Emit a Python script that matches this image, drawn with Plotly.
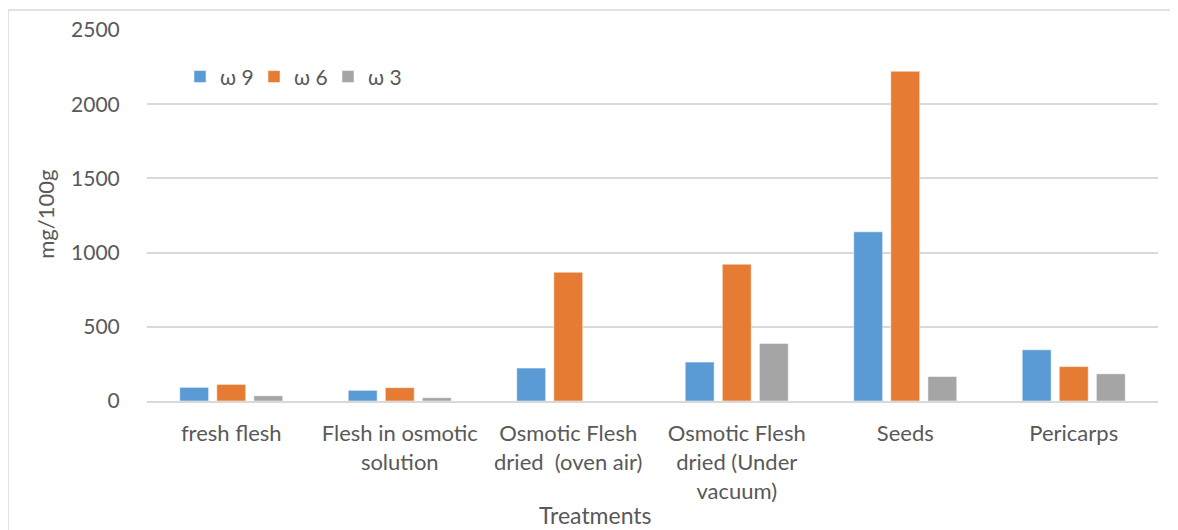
import plotly.graph_objects as go

categories = ["fresh flesh", "Flesh in osmotic<br>solution", "Osmotic Flesh<br>dried\u00a0 (oven air)",
              "Osmotic Flesh<br>dried (Under<br>vacuum)", "Seeds", "Pericarps"]
omega9 = [92, 72, 222, 262, 1140, 345]
omega6 = [112, 90, 868, 922, 2222, 232]
omega3 = [35, 22, 0, 388, 165, 183]
series_names = ["ω 9", "ω 6", "ω 3"]
colors = ["#5B9BD5", "#E67C34", "#A5A5A5"]

FONT = "Lato"
TXT = "#595959"

# page has an 8px body margin; figure coords = page coords - 8
OFF = 8
W, H = 1170, 522
L, R, T, B = 139, 20, 22, 128.5

fig = go.Figure()
for name, vals, col in zip(series_names, [omega9, omega6, omega3], colors):
    fig.add_trace(go.Bar(x=categories, y=vals, name=name, marker_color=col,
                         marker_line=dict(color="rgba(255,255,255,0.5)", width=1)))

pw = W - L - R
ph = H - T - B
def px(x):
    return (x - OFF - L) / pw
def py(y):
    return (H - B - (y - OFF)) / ph

fig.update_layout(
    width=W, height=H,
    margin=dict(l=L, r=R, t=T, b=B, autoexpand=False),
    paper_bgcolor="white", plot_bgcolor="white",
    barmode="group", bargap=0.34, bargroupgap=0.22,
    font=dict(family=FONT, size=20, color=TXT),
    showlegend=True,
    legend=dict(orientation="h", x=px(180), y=py(77), xanchor="left", yanchor="middle",
                font=dict(family=FONT, size=21, color=TXT), bgcolor="rgba(0,0,0,0)",
                traceorder="normal", entrywidth=29, entrywidthmode="pixels"),
    xaxis=dict(showgrid=False, showline=True, linecolor="#D9D9D9", linewidth=2,
               ticks="outside", ticklen=12, tickcolor="rgba(0,0,0,0)",
               tickfont=dict(family=FONT, size=22, color=TXT), range=[-0.5, 5.5]),
    yaxis=dict(range=[0, 2500], dtick=500, showgrid=True, gridcolor="#D9D9D9", gridwidth=1.5,
               zeroline=False, showline=False, ticks="outside", ticklen=22,
               tickcolor="rgba(0,0,0,0)", tickfont=dict(family=FONT, size=21, color=TXT)),
    shapes=[dict(type="rect", xref="paper", yref="paper", x0=px(8), x1=px(1300), y0=py(700), y1=py(10),
                 line=dict(color="#D9D9D9", width=1.5), fillcolor="rgba(0,0,0,0)", layer="below")],
    annotations=[
        dict(text="Treatments", xref="paper", yref="paper", x=px(595), y=py(516),
             xanchor="center", yanchor="middle", showarrow=False,
             font=dict(family=FONT, size=23, color=TXT)),
        dict(text="mg/100g", xref="paper", yref="paper", x=px(46), y=py(215),
             xanchor="center", yanchor="middle", showarrow=False, textangle=-90,
             font=dict(family=FONT, size=22, color=TXT)),
    ],
)

fig.write_html("out.html")
